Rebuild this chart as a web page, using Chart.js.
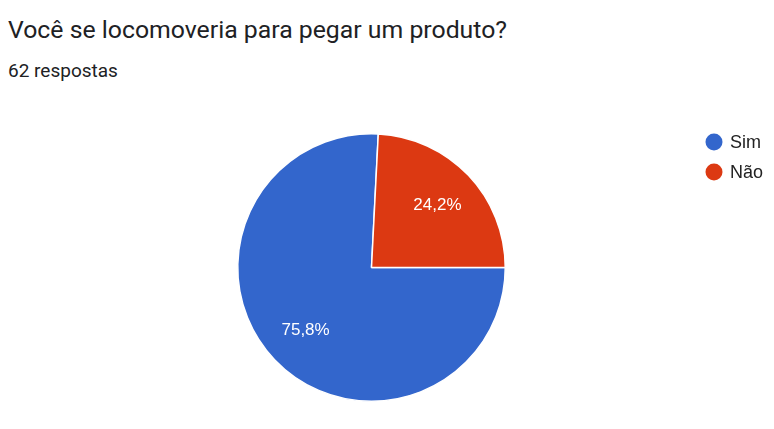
<!DOCTYPE html>
<html><head><meta charset="utf-8">
<script src="https://cdn.jsdelivr.net/npm/chart.js@4"></script>
<style>
html,body{margin:0;padding:0;background:#fff;width:774px;height:429px;overflow:hidden;font-family:Roboto,Arial,sans-serif;}
#title{position:absolute;left:8px;top:15px;font-size:24.8px;line-height:30px;color:#202124;white-space:nowrap;}
#sub{position:absolute;left:8px;top:60px;font-size:19px;line-height:22px;color:#202124;white-space:nowrap;}
#wrap{position:absolute;left:0;top:0;width:774px;height:429px;}
</style></head><body>
<div id="title">Você se locomoveria para pegar um produto?</div>
<div id="sub">62 respostas</div>
<div id="wrap"><canvas id="c" width="774" height="429"></canvas></div>
<script>
const categories = ["Sim", "Não"];
const counts = [47, 15];
const pctLabels = ["75,8%", "24,2%"];
const colors = ["#3366cc", "#dc3912"];

const labelPlugin = {
  id: 'labels',
  afterDatasetsDraw(chart) {
    const ctx = chart.ctx;
    const meta = chart.getDatasetMeta(0);
    ctx.save();
    ctx.font = '17px "Liberation Sans", Arial, sans-serif';
    ctx.fillStyle = '#ffffff';
    ctx.textAlign = 'center';
    ctx.textBaseline = 'middle';
    meta.data.forEach((arc, i) => {
      const p = arc.getProps(['x','y','startAngle','endAngle','outerRadius'], true);
      const mid = (p.startAngle + p.endAngle) / 2;
      const r = p.outerRadius * 0.68;
      ctx.fillText(pctLabels[i], p.x + Math.cos(mid) * r, p.y + Math.sin(mid) * r);
    });
    // legend
    ctx.font = '18px "Liberation Sans", Arial, sans-serif';
    ctx.textAlign = 'left';
    categories.forEach((c, i) => {
      const y = 142 + i * 30;
      ctx.beginPath();
      ctx.fillStyle = colors[i];
      ctx.arc(714, y, 8.5, 0, Math.PI * 2);
      ctx.fill();
      ctx.fillStyle = '#222222';
      ctx.fillText(c, 730, y + 1);
    });
    ctx.restore();
  }
};

new Chart(document.getElementById('c'), {
  type: 'pie',
  data: {
    labels: categories,
    datasets: [{
      data: counts,
      backgroundColor: colors,
      borderColor: '#ffffff',
      borderWidth: 1.5
    }]
  },
  options: {
    responsive: false,
    animation: false,
    rotation: 90,
    layout: { padding: { left: 237, right: 268, top: 133, bottom: 27 } },
    plugins: { legend: { display: false }, tooltip: { enabled: false } }
  },
  plugins: [labelPlugin]
});
</script>
</body></html>
